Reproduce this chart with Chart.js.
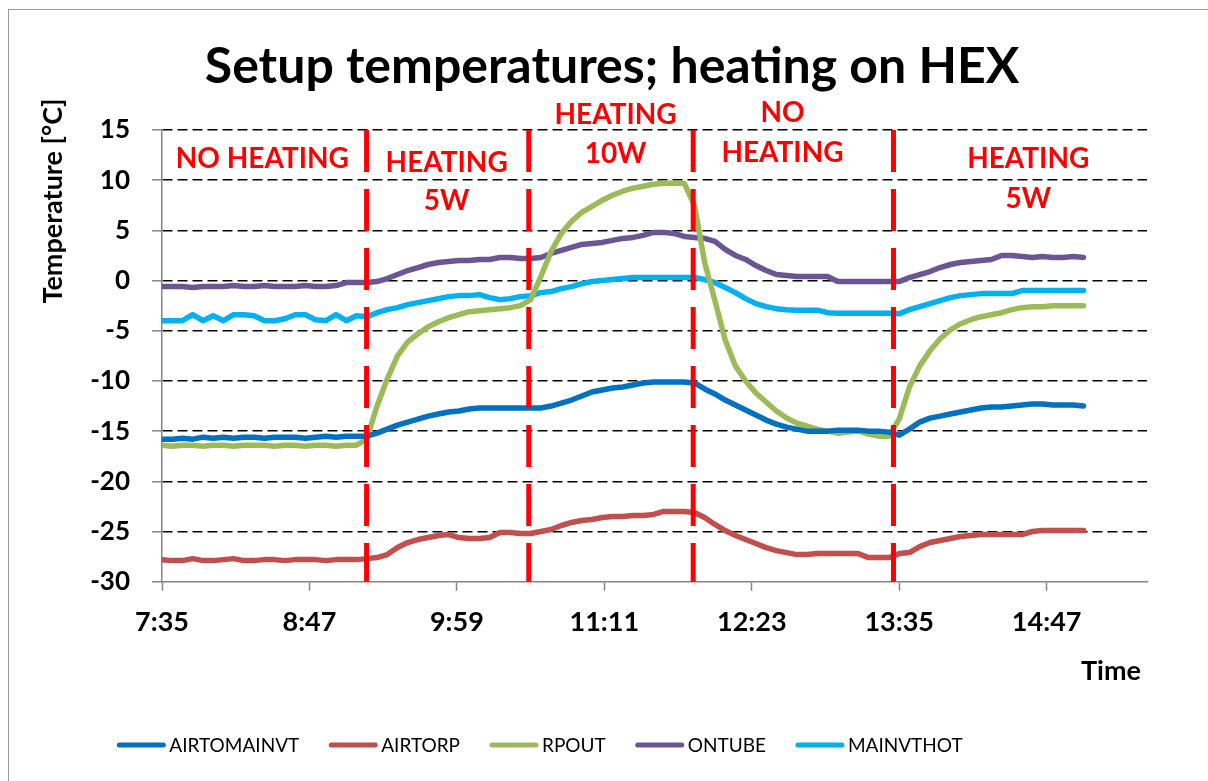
<!DOCTYPE html>
<html><head><meta charset="utf-8">
<script src="https://cdn.jsdelivr.net/npm/chart.js@4.4.1/dist/chart.umd.min.js"></script>
<style>html,body{margin:0;padding:0;background:#fff;}#wrap{width:1208px;height:781px;position:relative;}</style>
</head><body><div id="wrap"><canvas id="c" width="1208" height="781"></canvas></div>
<script>
// ---------- data ----------
const chartTitle = 'Setup temperatures; heating on HEX';
const yAxisTitle = 'Temperature [°C]';
const xAxisTitle = 'Time';
const seriesNames = ['AIRTOMAINVT','AIRTORP','RPOUT','ONTUBE','MAINVTHOT'];
// x ticks: minutes after 7:35
const xTickMinutes = [0,72,144,216,288,360,432];
const xTickLabels = ['7:35','8:47','9:59','11:11','12:23','13:35','14:47'];
const xAxisMax = 481;
const yMin = -30, yMax = 15, yStep = 5;
// sample times (minutes after 7:35)
const minutes = [0,5,10,15,20,25,30,35,40,45,50,55,60,65,70,75,80,85,90,95,
 100,105,110,115,120,125,130,135,140,145,150,155,160,165,170,175,180,185,190,195,
 200,205,210,215,220,225,230,235,240,245,250,255,260,265,270,275,280,285,290,295,
 300,305,310,315,320,325,330,335,340,345,350,355,360,365,370,375,380,385,390,395,
 400,405,410,415,420,425,430,435,440,445,450];
const AIRTOMAINVT = [-15.8,-15.8,-15.7,-15.8,-15.6,-15.7,-15.6,-15.7,-15.6,-15.6,-15.7,-15.6,-15.6,-15.6,-15.7,-15.6,-15.5,-15.6,-15.5,-15.5,
 -15.5,-15.2,-14.8,-14.4,-14.1,-13.8,-13.5,-13.3,-13.1,-13.0,-12.8,-12.7,-12.7,-12.7,-12.7,-12.7,-12.7,-12.7,-12.5,-12.2,
 -11.9,-11.5,-11.1,-10.9,-10.7,-10.6,-10.4,-10.2,-10.1,-10.1,-10.1,-10.1,-10.2,-10.8,-11.3,-11.9,-12.4,-12.9,-13.4,-13.9,
 -14.3,-14.6,-14.8,-15.0,-15.0,-15.0,-14.9,-14.9,-14.9,-15.0,-15.0,-15.1,-15.4,-14.8,-14.1,-13.7,-13.5,-13.3,-13.1,-12.9,
 -12.7,-12.6,-12.6,-12.5,-12.4,-12.3,-12.3,-12.4,-12.4,-12.4,-12.5];
const AIRTORP = [-27.8,-27.9,-27.9,-27.7,-27.9,-27.9,-27.8,-27.7,-27.9,-27.9,-27.8,-27.8,-27.9,-27.8,-27.8,-27.8,-27.9,-27.8,-27.8,-27.8,
 -27.7,-27.6,-27.3,-26.6,-26.1,-25.8,-25.6,-25.4,-25.3,-25.6,-25.7,-25.7,-25.6,-25.1,-25.1,-25.2,-25.2,-25.0,-24.8,-24.4,
 -24.1,-23.9,-23.8,-23.6,-23.5,-23.5,-23.4,-23.4,-23.3,-23.0,-23.0,-23.0,-23.1,-23.6,-24.3,-24.9,-25.4,-25.8,-26.2,-26.6,
 -26.9,-27.1,-27.3,-27.3,-27.2,-27.2,-27.2,-27.2,-27.2,-27.6,-27.6,-27.6,-27.2,-27.1,-26.5,-26.1,-25.9,-25.7,-25.5,-25.4,
 -25.3,-25.3,-25.3,-25.3,-25.3,-25.0,-24.9,-24.9,-24.9,-24.9,-24.9];
const RPOUT = [-16.4,-16.5,-16.4,-16.4,-16.5,-16.4,-16.4,-16.5,-16.4,-16.4,-16.4,-16.5,-16.4,-16.4,-16.5,-16.4,-16.4,-16.5,-16.4,-16.4,
 -15.8,-12.5,-9.8,-7.5,-6.1,-5.3,-4.6,-4.1,-3.7,-3.4,-3.1,-3.0,-2.9,-2.8,-2.7,-2.5,-1.9,0.4,2.9,4.7,
 5.9,6.8,7.4,8.0,8.5,8.9,9.2,9.4,9.6,9.7,9.7,9.7,7.5,1.8,-2.0,-5.9,-8.5,-10.0,-11.2,-12.1,
 -13.0,-13.7,-14.2,-14.5,-14.8,-15.0,-15.2,-15.1,-15.0,-15.3,-15.5,-15.5,-13.8,-10.6,-8.5,-7.0,-5.8,-4.9,-4.3,-3.9,
 -3.6,-3.4,-3.2,-2.9,-2.7,-2.6,-2.6,-2.5,-2.5,-2.5,-2.5];
const ONTUBE = [-0.6,-0.6,-0.6,-0.7,-0.6,-0.6,-0.6,-0.5,-0.6,-0.6,-0.5,-0.6,-0.6,-0.6,-0.5,-0.6,-0.6,-0.5,-0.2,-0.2,
 -0.2,-0.1,0.2,0.6,1.0,1.3,1.6,1.8,1.9,2.0,2.0,2.1,2.1,2.3,2.3,2.2,2.2,2.3,2.7,3.0,
 3.3,3.6,3.7,3.8,4.0,4.2,4.3,4.5,4.8,4.8,4.7,4.4,4.3,4.2,3.9,3.1,2.5,2.1,1.5,1.0,
 0.6,0.5,0.4,0.4,0.4,0.4,-0.1,-0.1,-0.1,-0.1,-0.1,-0.1,-0.1,0.3,0.6,0.9,1.3,1.6,1.8,1.9,
 2.0,2.1,2.5,2.5,2.4,2.3,2.4,2.3,2.3,2.4,2.3];
const MAINVTHOT = [-4.0,-4.0,-4.0,-3.4,-4.0,-3.5,-4.0,-3.4,-3.4,-3.5,-4.0,-4.0,-3.8,-3.4,-3.4,-3.9,-4.0,-3.4,-4.0,-3.5,
 -3.6,-3.2,-2.9,-2.7,-2.4,-2.2,-2.0,-1.8,-1.6,-1.5,-1.5,-1.4,-1.7,-1.9,-1.8,-1.6,-1.5,-1.2,-1.1,-0.8,
 -0.6,-0.3,-0.1,0.0,0.1,0.2,0.3,0.3,0.3,0.3,0.3,0.3,0.3,0.1,-0.2,-0.7,-1.2,-1.8,-2.3,-2.6,
 -2.8,-2.9,-2.95,-2.95,-2.95,-3.2,-3.25,-3.25,-3.25,-3.25,-3.25,-3.25,-3.3,-2.9,-2.6,-2.3,-2.0,-1.7,-1.5,-1.4,
 -1.3,-1.3,-1.3,-1.3,-1.0,-1.0,-1.0,-1.0,-1.0,-1.0,-1.0];
// heating phase changes (minutes after 7:35) and their labels
const phaseChangeMinutes = [99.9,179.1,259.4,357.2];
const phaseLabels = [['NO HEATING'],['HEATING','5W'],['HEATING','10W'],['NO','HEATING'],['HEATING','5W']];

// ---------- styles ----------
const seriesColors = ['#0070C0','#C0504D','#9BBB59','#6B5593','#00B0F0'];
const FONT = 'Lato, "Open Sans", sans-serif';
const phaseLabelAnchors = [{t:49,y:[168]},{t:139,y:[172,210]},{t:221.5,y:[124,163]},{t:303,y:[122,162]},{t:423,y:[168,208]}];

function fmtTick(v){const i=xTickMinutes.indexOf(v);return i>=0?xTickLabels[i]:'';}

const seriesData = [AIRTOMAINVT,AIRTORP,RPOUT,ONTUBE,MAINVTHOT];
const datasets = seriesNames.map((n,k)=>({
  label:n,
  data: minutes.map((m,i)=>({x:m,y:seriesData[k][i]})),
  borderColor: seriesColors[k], backgroundColor: seriesColors[k],
  borderWidth:5.5, pointRadius:0, tension:0, borderCapStyle:'round', borderJoinStyle:'round', fill:false
}));

const decor = {
  id:'decor',
  beforeDraw(chart){
    const ctx=chart.ctx; ctx.save();
    ctx.fillStyle='#fff'; ctx.fillRect(0,0,chart.width,chart.height);
    ctx.strokeStyle='#9a9a9a'; ctx.lineWidth=1; ctx.strokeRect(8.5,9.5,1300,900);
    ctx.restore();
  },
  afterDatasetsDraw(chart){
    const ctx=chart.ctx, xs=chart.scales.x, a=chart.chartArea;
    ctx.save(); ctx.strokeStyle='#FF0000'; ctx.lineWidth=5; ctx.setLineDash([42,17]);
    phaseChangeMinutes.forEach(t=>{const px=xs.getPixelForValue(t);ctx.beginPath();ctx.moveTo(px,a.top);ctx.lineTo(px,a.bottom);ctx.stroke();});
    ctx.restore();
  },
  afterDraw(chart){
    const ctx=chart.ctx, xs=chart.scales.x;
    ctx.save();
    // phase labels
    ctx.fillStyle='#FF0000'; ctx.font='bold 28px '+FONT; ctx.textAlign='center'; ctx.textBaseline='alphabetic';
    phaseLabels.forEach((lines,i)=>{const an=phaseLabelAnchors[i];const px=xs.getPixelForValue(an.t);
      lines.forEach((s,j)=>ctx.fillText(s,px,an.y[j]));});
    // y axis title
    ctx.fillStyle='#000'; ctx.font='bold 27px '+FONT;
    ctx.save(); ctx.translate(61.5,201); ctx.rotate(-Math.PI/2); ctx.textAlign='center'; ctx.fillText(yAxisTitle,0,0); ctx.restore();
    // x axis title
    ctx.textAlign='right'; ctx.fillText(xAxisTitle,1141,680);
    // legend
    ctx.font='19px '+FONT; ctx.textAlign='left';
    const lineLen=48, gap=4, itemGap=30;
    const widths=seriesNames.map(n=>ctx.measureText(n).width);
    const total=widths.reduce((s,w)=>s+lineLen+gap+w,0)+itemGap*(seriesNames.length-1);
    let x=540-total/2; const ly=745;
    seriesNames.forEach((n,i)=>{
      ctx.strokeStyle=seriesColors[i]; ctx.lineWidth=5; ctx.lineCap='round';
      ctx.beginPath(); ctx.moveTo(x+2,ly); ctx.lineTo(x+lineLen-2,ly); ctx.stroke();
      ctx.fillStyle='#000'; ctx.fillText(n,x+lineLen+gap,ly+7);
      x+=lineLen+gap+widths[i]+itemGap;
    });
    ctx.restore();
  }
};

new Chart(document.getElementById('c'),{
  type:'line',
  data:{datasets},
  options:{
    responsive:false, animation:false, devicePixelRatio:1,
    layout:{padding:{left:77,right:61,top:0,bottom:0}},
    plugins:{
      legend:{display:false}, tooltip:{enabled:false},
      title:{display:true,text:chartTitle,color:'#000',font:{family:FONT,size:50,weight:'bold'},padding:{top:37,bottom:33}}
    },
    scales:{
      x:{type:'linear',min:0,max:xAxisMax,
        afterBuildTicks:s=>{s.ticks=xTickMinutes.map(v=>({value:v}));},
        afterFit:s=>{s.height=199.3;},
        ticks:{callback:v=>fmtTick(v),color:'#000',font:{family:FONT,size:27,weight:'bold'},padding:15,maxRotation:0,autoSkip:false},
        grid:{display:true,drawOnChartArea:false,drawTicks:true,tickLength:9,tickColor:'#868686',tickWidth:1.5},
        border:{display:true,color:'#868686',width:1.5}
      },
      y:{min:yMin,max:yMax,
        afterFit:s=>{s.width=85;},
        ticks:{stepSize:yStep,color:'#000',font:{family:FONT,size:26,weight:'bold'},padding:22},
        grid:{color:c=>(c.tick&&c.tick.value===yMin)?'rgba(0,0,0,0)':'#000',lineWidth:1.6,tickLength:10,tickColor:'#868686',tickWidth:1.5},
        border:{display:true,color:'#868686',width:1.5,dash:[10,5]}
      }
    }
  },
  plugins:[decor]
});
</script></body></html>
